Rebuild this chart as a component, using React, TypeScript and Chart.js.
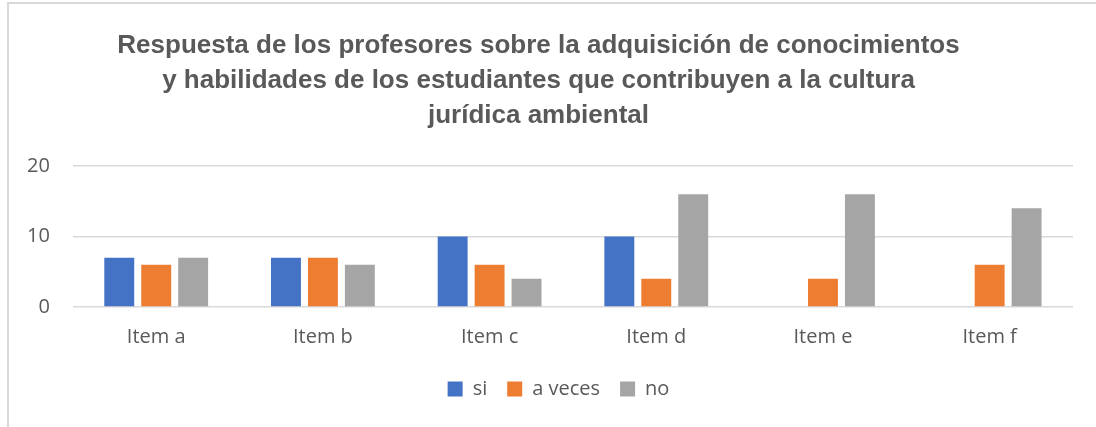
import React, { useEffect, useRef } from "react";
import { Chart, registerables } from "chart.js";

Chart.register(...registerables);

const categories = ["Item a", "Item b", "Item c", "Item d", "Item e", "Item f"];
const siValues = [7, 7, 10, 10, 0, 0];
const aVecesValues = [6, 7, 6, 4, 4, 6];
const noValues = [7, 6, 4, 16, 16, 14];
const yTicks = [0, 10, 20];
const titleLines = [
  "Respuesta de los profesores sobre la adquisición de conocimientos",
  "y habilidades de los estudiantes que contribuyen a la cultura",
  "jurídica ambiental",
];

const TEXT = "#595959";
const AXIS_FONT = "'Open Sans', 'Liberation Sans', sans-serif";

const legendShift = {
  id: "legendShift",
  afterLayout(chart: any) {
    if (chart.legend) {
      chart.legend.left += 20;
      chart.legend.right += 20;
    }
  },
};

export default function App() {
  const ref = useRef<HTMLCanvasElement | null>(null);

  useEffect(() => {
    if (!ref.current) return;
    const chart = new Chart(ref.current, {
      type: "bar",
      data: {
        labels: categories,
        datasets: [
          { label: "si", data: siValues, backgroundColor: "#4472C4" },
          { label: "a veces", data: aVecesValues, backgroundColor: "#ED7D31" },
          { label: "no", data: noValues, backgroundColor: "#A5A5A5" },
        ],
      },
      plugins: [legendShift],
      options: {
        animation: false,
        responsive: false,
        maintainAspectRatio: false,
        datasets: {
          bar: { categoryPercentage: 0.665, barPercentage: 0.81 },
        },
        layout: { padding: { left: 4, right: 23, top: 28, bottom: 18 } },
        plugins: {
          title: {
            display: true,
            text: titleLines,
            color: TEXT,
            font: { family: "'Liberation Sans', Arial, sans-serif", size: 26, weight: "bold", lineHeight: 1.346 },
            padding: { top: 0, bottom: 33 },
          },
          legend: {
            position: "bottom",
            labels: {
              color: TEXT,
              boxWidth: 15,
              boxHeight: 15,
              padding: 20,
              font: { family: AXIS_FONT, size: 20 },
            },
          },
          tooltip: { enabled: false },
        },
        scales: {
          x: {
            grid: { display: false },
            border: { display: false },
            ticks: { color: TEXT, font: { family: AXIS_FONT, size: 20 }, padding: 10 },
          },
          y: {
            min: 0,
            max: 20,
            afterBuildTicks: (axis: any) => {
              axis.ticks = yTicks.map((v) => ({ value: v }));
            },
            grid: { color: "#d9d9d9", lineWidth: 1.5, drawTicks: false },
            border: { display: false },
            ticks: { color: TEXT, font: { family: AXIS_FONT, size: 20 }, padding: 23 },
          },
        },
      },
    });
    return () => chart.destroy();
  }, []);

  return (
    <div style={{ position: "fixed", left: 0, top: 0, width: 1096, height: 427, background: "#fff" }}>
      <div
        style={{
          position: "absolute",
          left: 7,
          top: 2,
          width: 1089,
          height: 425,
          borderLeft: "2px solid #d9d9d9",
          borderTop: "2px solid #d9d9d9",
          boxSizing: "border-box",
        }}
      />
      <canvas ref={ref} width={1096} height={427} style={{ position: "absolute", left: 0, top: 0 }} />
    </div>
  );
}
